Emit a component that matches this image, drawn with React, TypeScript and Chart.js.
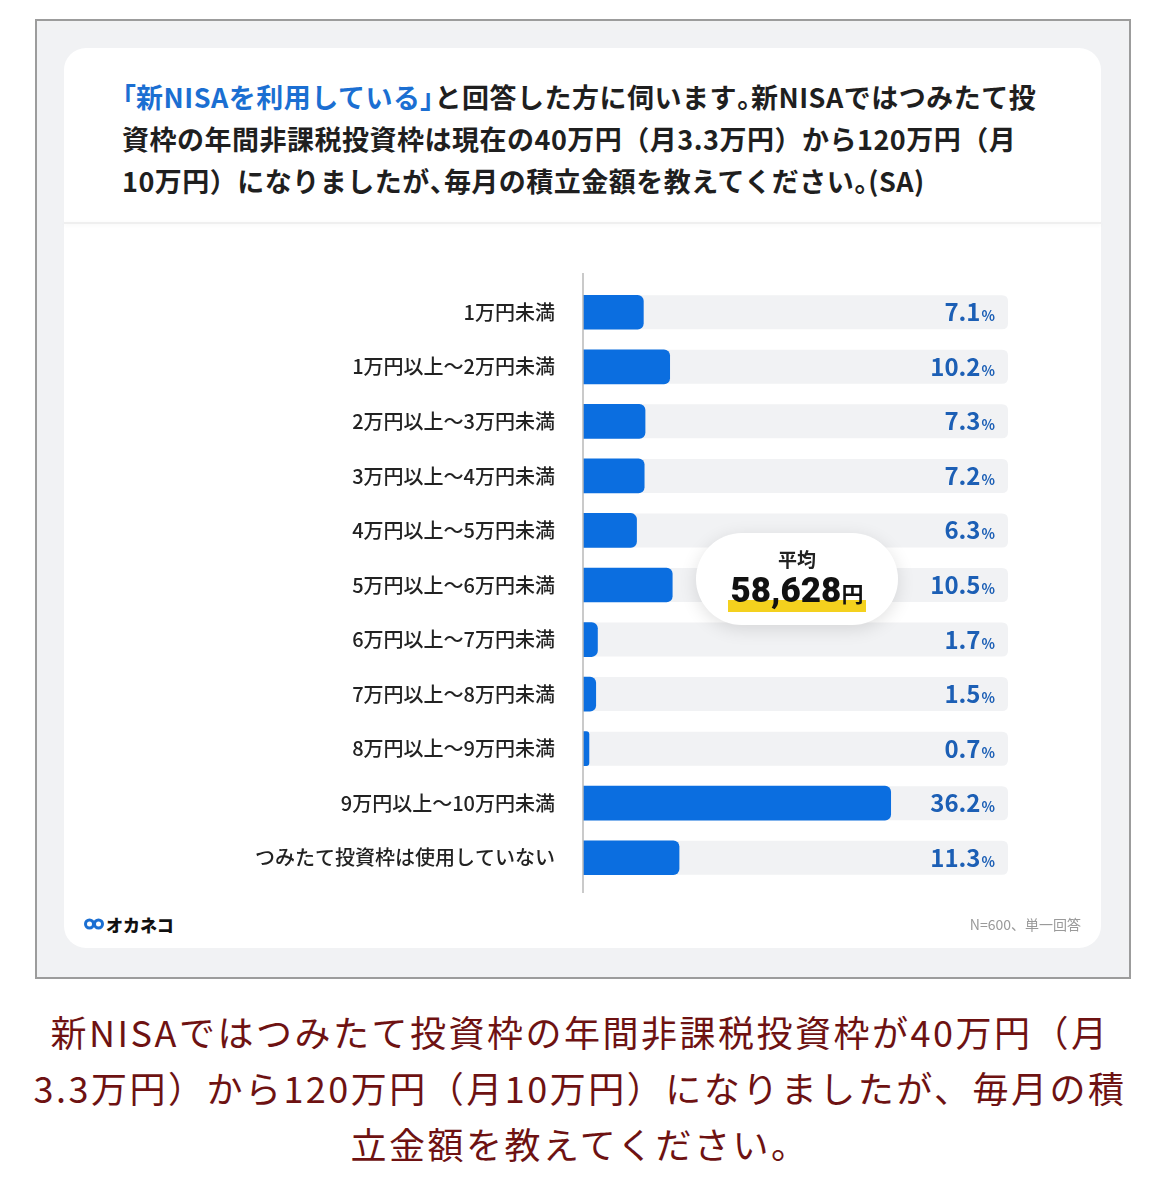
import React, { useEffect, useRef } from "react";
import { Chart, registerables } from "chart.js";

Chart.register(...registerables);

const CATEGORIES = [
  "1万円未満",
  "1万円以上～2万円未満",
  "2万円以上～3万円未満",
  "3万円以上～4万円未満",
  "4万円以上～5万円未満",
  "5万円以上～6万円未満",
  "6万円以上～7万円未満",
  "7万円以上～8万円未満",
  "8万円以上～9万円未満",
  "9万円以上～10万円未満",
  "つみたて投資枠は使用していない",
];
const VALUES = [7.1, 10.2, 7.3, 7.2, 6.3, 10.5, 1.7, 1.5, 0.7, 36.2, 11.3];
const TRACK_MAX = 50;
const AVERAGE_YEN = 58628;
const TITLE_BLUE = "「新NISAを利用している」";
const TITLE_LINES = [
  "と回答した方に伺います。新NISAではつみたて投",
  "資枠の年間非課税投資枠は現在の40万円（月3.3万円）から120万円（月",
  "10万円）になりましたが、毎月の積立金額を教えてください。(SA)",
];
const CAPTION_LINES = [
  "新NISAではつみたて投資枠の年間非課税投資枠が40万円（月",
  "3.3万円）から120万円（月10万円）になりましたが、毎月の積",
  "立金額を教えてください。",
];
const NOTE = "N=600、単一回答";

const FONT = "'Noto Sans CJK JP', 'Noto Sans', sans-serif";
const BAR_BLUE = "#0b6ee0";
const VALUE_BLUE = "#1c5fb5";
const TRACK_GRAY = "#f1f2f4";

function roundRectPath(ctx: CanvasRenderingContext2D, x: number, y: number, w: number, h: number, r: number) {
  ctx.beginPath();
  ctx.moveTo(x, y);
  ctx.lineTo(x + w - r, y);
  ctx.quadraticCurveTo(x + w, y, x + w, y + r);
  ctx.lineTo(x + w, y + h - r);
  ctx.quadraticCurveTo(x + w, y + h, x + w - r, y + h);
  ctx.lineTo(x, y + h);
  ctx.closePath();
}

const trackPlugin = {
  id: "tracks",
  beforeDatasetsDraw(chart: any) {
    const { ctx, scales, chartArea } = chart;
    const xs = scales.x;
    const ys = scales.y;
    const right = xs.getPixelForValue(TRACK_MAX);
    ctx.save();
    ctx.fillStyle = TRACK_GRAY;
    CATEGORIES.forEach((_, i) => {
      const cy = ys.getPixelForValue(i);
      roundRectPath(ctx, chartArea.left, cy - 17, right - chartArea.left, 34, 6);
      ctx.fill();
    });
    ctx.restore();
  },
  afterDatasetsDraw(chart: any) {
    const { ctx, scales, chartArea } = chart;
    const xs = scales.x;
    const meta = chart.getDatasetMeta(0);
    ctx.save();
    ctx.strokeStyle = "#b8b8b8";
    ctx.lineWidth = 1.5;
    ctx.beginPath();
    ctx.moveTo(chartArea.left, chartArea.top - 12);
    ctx.lineTo(chartArea.left, chartArea.bottom + 8);
    ctx.stroke();
    const rightX = xs.getPixelForValue(TRACK_MAX) - 13;
    ctx.fillStyle = VALUE_BLUE;
    ctx.textBaseline = "alphabetic";
    meta.data.forEach((bar: any, i: number) => {
      const y = bar.y + 9;
      ctx.font = `700 14px ${FONT}`;
      ctx.textAlign = "right";
      ctx.fillText("%", rightX, y);
      const pw = ctx.measureText("%").width;
      ctx.font = `700 24px ${FONT}`;
      ctx.fillText(VALUES[i].toFixed(1), rightX - pw - 1, y);
    });
    ctx.restore();
  },
};

function BarChart() {
  const ref = useRef<HTMLCanvasElement | null>(null);
  useEffect(() => {
    if (!ref.current) return;
    const chart = new Chart(ref.current, {
      type: "bar",
      data: {
        labels: CATEGORIES,
        datasets: [
          {
            data: VALUES,
            backgroundColor: BAR_BLUE,
            barThickness: 34,
            borderRadius: 6,
            borderSkipped: "start",
          },
        ],
      },
      options: {
        indexAxis: "y",
        animation: false,
        responsive: false,
        maintainAspectRatio: false,
        layout: { padding: { top: 10, bottom: 10, right: 32, left: 0 } },
        plugins: { legend: { display: false }, tooltip: { enabled: false } },
        scales: {
          x: { display: false, min: 0, max: TRACK_MAX },
          y: {
            position: "left",
            grid: { display: false, drawTicks: false },
            border: { display: false },
            ticks: {
              padding: 28,
              color: "#222",
              font: { family: FONT, size: 20, weight: 500 as any },
            },
            afterFit(scale: any) {
              scale.width = 383;
            },
          },
        },
      },
      plugins: [trackPlugin],
    });
    return () => chart.destroy();
  }, []);
  return (
    <canvas
      ref={ref}
      width={840}
      height={680}
      style={{ position: "absolute", left: 200, top: 245, width: 840, height: 680 }}
    />
  );
}

function Punct({ text }: { text: string }) {
  const parts = text.split(/([「」、。])/);
  return (
    <>
      {parts.map((p, i) =>
        /^[「」、。]$/.test(p) ? (
          <span key={i} style={{ fontFeatureSettings: "'palt'" }}>{p}</span>
        ) : (
          <React.Fragment key={i}>{p}</React.Fragment>
        )
      )}
    </>
  );
}

export default function App() {
  return (
    <div style={{ position: "absolute", left: 0, top: 0, width: 1160, height: 1200, background: "#fff", fontFamily: FONT }}>
      <div
        style={{
          position: "absolute",
          left: 35,
          top: 19,
          width: 1092,
          height: 956,
          border: "2px solid #9c9c9c",
          background: "#f1f2f4",
        }}
      />
      <div
        style={{
          position: "absolute",
          left: 64,
          top: 48,
          width: 1037,
          height: 900,
          background: "#fff",
          borderRadius: 22,
        }}
      />
      <div
        style={{
          position: "absolute",
          left: 64,
          top: 222,
          width: 1037,
          height: 2,
          background: "#efefef",
          boxShadow: "0 1px 4px rgba(0,0,0,0.05)",
        }}
      />
      <div
        style={{
          position: "absolute",
          left: 122,
          top: 76,
          fontSize: 27,
          fontWeight: 700,
          lineHeight: "42px",
          letterSpacing: "0.5px",
          color: "#1f1f1f",
          whiteSpace: "nowrap",
        }}
      >
        <div>
          <span style={{ color: "#1b6fd2" }}><Punct text={TITLE_BLUE} /></span>
          <Punct text={TITLE_LINES[0]} />
        </div>
        <div><Punct text={TITLE_LINES[1]} /></div>
        <div><Punct text={TITLE_LINES[2]} /></div>
      </div>
      <BarChart />
      <div
        style={{
          position: "absolute",
          left: 696,
          top: 533,
          width: 202,
          height: 92,
          borderRadius: 46,
          background: "#fff",
          boxShadow: "0 4px 18px rgba(0,0,0,0.12)",
        }}
      >
        <div style={{ position: "absolute", left: 0, width: 202, top: 14, textAlign: "center", fontSize: 19, fontWeight: 700, color: "#222", lineHeight: "24px" }}>
          平均
        </div>
        <div style={{ position: "absolute", left: 32, top: 67, width: 138, height: 12, background: "#f4d11e" }} />
        <div style={{ position: "absolute", left: 0, width: 202, top: 38, textAlign: "center", whiteSpace: "nowrap", color: "#111", fontWeight: 800, lineHeight: "40px" }}>
          <span style={{ position: "relative", fontSize: 35, fontFamily: "Roboto, " + FONT, fontWeight: 900 }}>
            {AVERAGE_YEN.toLocaleString("en-US")}
          </span>
          <span style={{ position: "relative", fontSize: 22, fontWeight: 700 }}>円</span>
        </div>
      </div>
      <div style={{ position: "absolute", left: 84, top: 912, display: "flex", alignItems: "center", height: 24 }}>
        <svg width="20" height="14" viewBox="0 0 20 14">
          <circle cx="5.5" cy="7" r="4" fill="none" stroke="#1b6fd2" strokeWidth="3" />
          <circle cx="14.5" cy="7" r="4" fill="none" stroke="#1b6fd2" strokeWidth="3" />
        </svg>
        <span style={{ marginLeft: 2, fontSize: 17, fontWeight: 900, color: "#111" }}>オカネコ</span>
      </div>
      <div style={{ position: "absolute", right: 1160 - 1081, top: 914, fontSize: 14, color: "#9a9a9a", whiteSpace: "nowrap" }}>
        {NOTE}
      </div>
      <div
        style={{
          position: "absolute",
          left: 0,
          width: 1160,
          top: 1003,
          textAlign: "center",
          fontSize: 36,
          lineHeight: "56px",
          letterSpacing: "2.5px",
          color: "#6e1212",
          whiteSpace: "nowrap",
        }}
      >
        {CAPTION_LINES.map((l, i) => (
          <div key={i}>{l}</div>
        ))}
      </div>
    </div>
  );
}
